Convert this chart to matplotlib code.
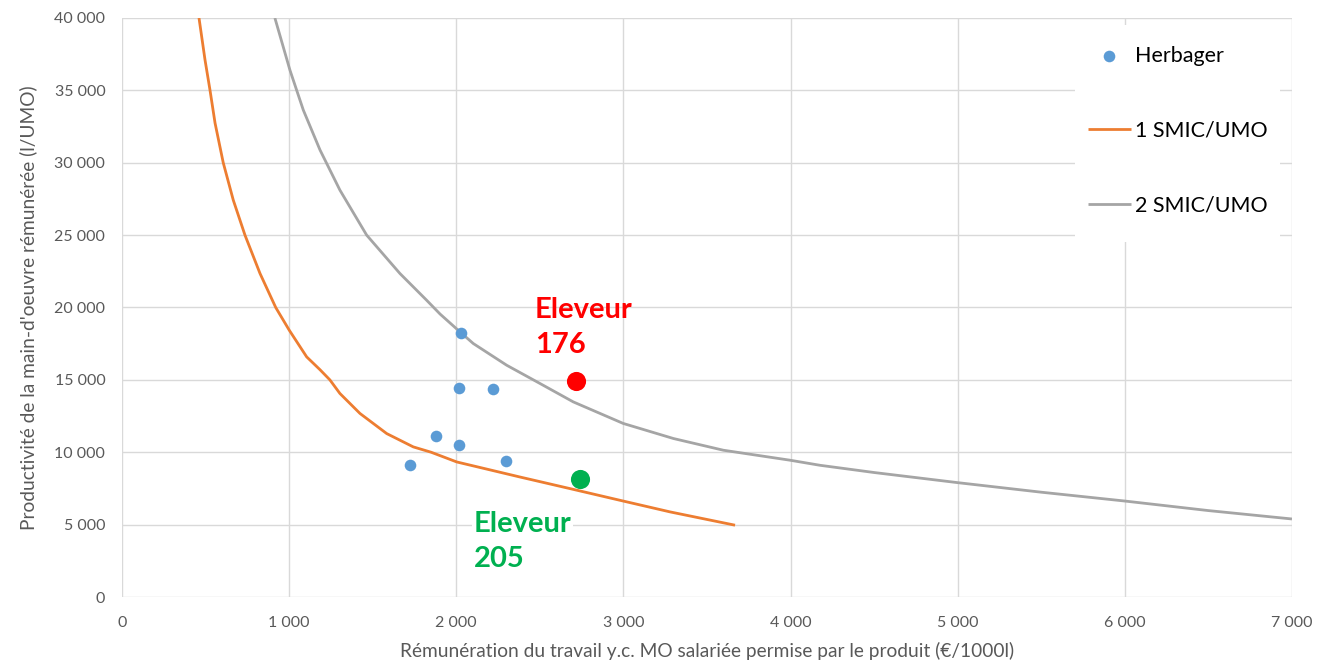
import matplotlib
matplotlib.use("Agg")
import matplotlib.pyplot as plt
from matplotlib.patches import Rectangle
from matplotlib.ticker import FuncFormatter, MultipleLocator

plt.rcParams['font.family'] = ['Lato', 'DejaVu Sans']

# Herbager farms
herb_x = [2028, 2016, 2220, 1879, 2016, 1723, 2297]
herb_y = [18240, 14440, 14370, 11120, 10500, 9120, 9400]

# 1 SMIC/UMO curve
smic1_x = [461, 497, 527, 557, 606, 666, 736, 826, 920, 1001, 1105, 1185, 1244, 1304,
           1424, 1584, 1743, 1850, 2003, 2381, 2680, 2980, 3279, 3668]
smic1_y = [40000, 37100, 35000, 32740, 30000, 27420, 25000, 22350, 20000, 18430, 16590, 15700, 15000, 14060,
           12680, 11290, 10370, 10000, 9330, 8290, 7490, 6680, 5880, 4960]

# 2 SMIC/UMO curve
smic2_x = [915, 1005, 1085, 1185, 1304, 1464, 1663, 1823, 1903, 2022, 2102, 2302, 2501, 2700,
           2999, 3299, 3598, 3997, 4176, 4500, 5000, 5500, 6000, 6500, 7000]
smic2_y = [40000, 36400, 33640, 30880, 28110, 25000, 22350, 20500, 19550, 18320, 17510, 16010, 14750, 13480,
           11990, 10950, 10140, 9450, 9100, 8600, 7900, 7240, 6630, 5970, 5390]

# Highlighted farms
el176 = (2716, 14920)
el205 = (2740, 8150)

fig = plt.figure(figsize=(13.17, 6.64), dpi=100)
fig.patch.set_facecolor('white')
ax = fig.add_axes([0.0926, 0.1009, 0.8884, 0.872])

ax.plot(smic1_x, smic1_y, color='#ED7D31', lw=2.0, label='1 SMIC/UMO', zorder=3,
        solid_capstyle='butt', solid_joinstyle='round')
ax.plot(smic2_x, smic2_y, color='#A5A5A5', lw=2.0, label='2 SMIC/UMO', zorder=3,
        solid_capstyle='butt', solid_joinstyle='round')
ax.scatter(herb_x, herb_y, s=70, color='#5B9BD5', label='Herbager', zorder=4, linewidths=0)
ax.scatter([el176[0]], [el176[1]], s=190, color='#FF0000', zorder=4, linewidths=0)
ax.scatter([el205[0]], [el205[1]], s=190, color='#00B050', zorder=4, linewidths=0)

ax.text(2470, 18600, "Eleveur\n176", color='#FF0000', fontsize=21, fontweight='bold',
        va='center', ha='left', linespacing=1.45, zorder=5)
ax.text(2105, 3850, "Eleveur\n205", color='#00B050', fontsize=21, fontweight='bold',
        va='center', ha='left', linespacing=1.45, zorder=5,
        bbox=dict(facecolor='white', edgecolor='none', pad=1))

ax.set_xlim(0, 7000)
ax.set_ylim(0, 40000)
ax.xaxis.set_major_locator(MultipleLocator(1000))
ax.yaxis.set_major_locator(MultipleLocator(5000))
fmt = FuncFormatter(lambda v, p: f"{int(v):,}".replace(",", " "))
ax.xaxis.set_major_formatter(fmt)
ax.yaxis.set_major_formatter(fmt)
ax.grid(True, color='#D9D9D9', lw=1.0, zorder=0)
ax.set_axisbelow(True)
for s in ax.spines.values():
    s.set_visible(False)
ax.tick_params(length=0, labelsize=11.5, labelcolor='#595959')
ax.tick_params(axis='y', pad=12)
ax.tick_params(axis='x', pad=14)

ax.set_xlabel("Rémunération du travail y.c. MO salariée permise par le produit (€/1000l)",
              fontsize=13.8, color='#595959', labelpad=8)
ax.set_ylabel("Productivité de la main-d'oeuvre rémunérée (l/UMO)",
              fontsize=13.8, color='#595959', labelpad=12)

# white legend background box
ax.add_patch(Rectangle((0.8145, 0.6129), 0.9897 - 0.8145, 0.9879 - 0.6129,
                       transform=ax.transAxes, facecolor='white', edgecolor='none', zorder=5))

handles, labels = ax.get_legend_handles_labels()
order = [labels.index('Herbager'), labels.index('1 SMIC/UMO'), labels.index('2 SMIC/UMO')]
leg = ax.legend([handles[i] for i in order], [labels[i] for i in order],
                loc='upper left', bbox_to_anchor=(0.8256, 0.9516), fontsize=15.5,
                frameon=False, labelspacing=2.55, handlelength=2.0, handletextpad=0.2,
                borderpad=0.0, borderaxespad=0.0, markerscale=1.0)
leg.set_zorder(6)

fig.savefig("out.png", dpi=100, facecolor=fig.get_facecolor())
